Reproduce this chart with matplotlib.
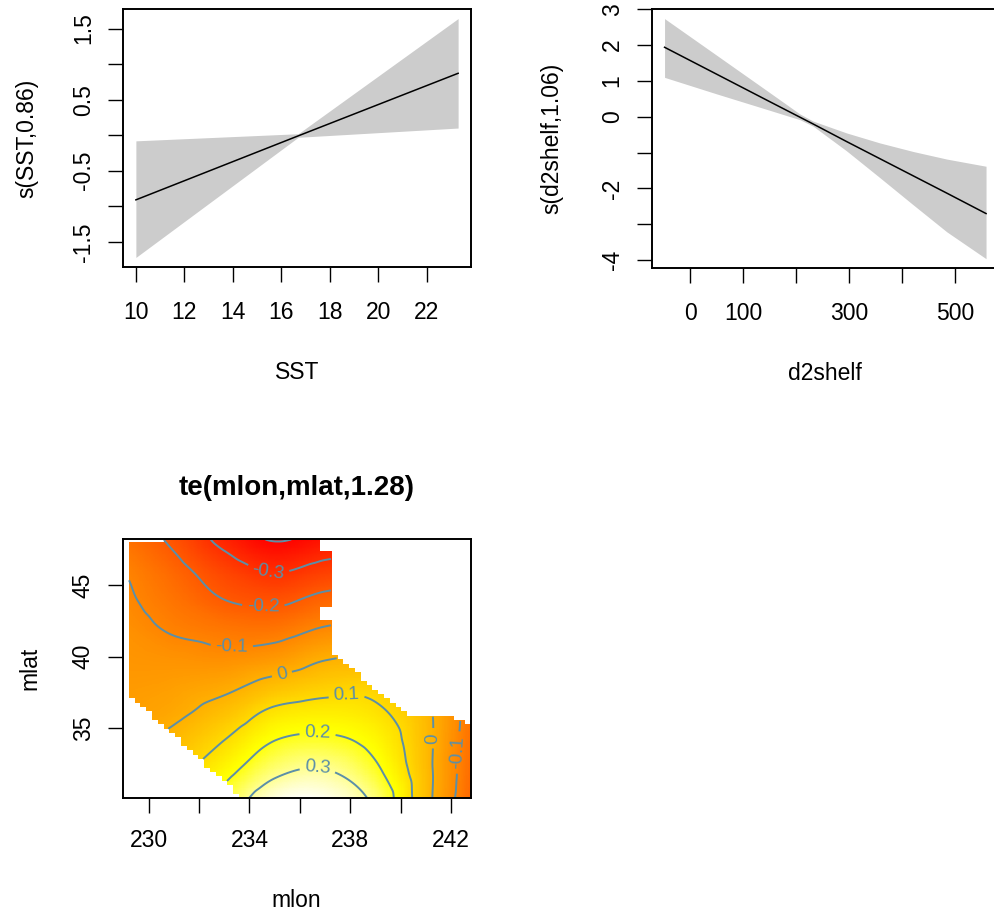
import numpy as np
import matplotlib
matplotlib.use("Agg")
import matplotlib.pyplot as plt
import matplotlib.tri as mtri
from matplotlib.path import Path
from matplotlib.colors import LinearSegmentedColormap, hsv_to_rgb

plt.rcParams['font.family'] = ['Liberation Sans', 'DejaVu Sans']
plt.rcParams['axes.unicode_minus'] = False
plt.rcParams['contour.negative_linestyle'] = 'solid'

# ---------------- data: panel 1 (SST) ----------------
sst = [10.0, 16.7, 23.3]
sst_fit = [-0.91, -0.01, 0.87]
sst_upper = [-0.08, 0.02, 1.64]
sst_lower = [-1.72, -0.03, 0.10]
sst_xticks = [10, 12, 14, 16, 18, 20, 22]
sst_xticklabels = ["10", "12", "14", "16", "18", "20", "22"]
sst_yticks = [-1.5, -1.0, -0.5, 0.0, 0.5, 1.0, 1.5]
sst_yticklabels = ["-1.5", "", "-0.5", "", "0.5", "", "1.5"]

# ---------------- data: panel 2 (d2shelf) ----------------
d2shelf = [-48, 50, 144, 207, 232, 295, 358, 421, 484, 558]
d2_fit = [1.94, 1.19, 0.47, -0.01, -0.20, -0.69, -1.17, -1.65, -2.13, -2.70]
d2_upper = [2.74, 1.72, 0.74, 0.08, -0.12, -0.45, -0.73, -0.97, -1.18, -1.38]
d2_lower = [1.10, 0.64, 0.21, -0.08, -0.26, -0.95, -1.70, -2.46, -3.21, -3.96]
d2_xticks = [0, 100, 200, 300, 400, 500]
d2_xticklabels = ["0", "100", "", "300", "", "500"]
d2_yticks = [-4, -3, -2, -1, 0, 1, 2, 3]
d2_yticklabels = ["-4", "", "-2", "", "0", "1", "2", "3"]

# ---------------- data: panel 3 (te(mlon,mlat)) ----------------
mlon_nodes = [229, 231, 233, 235, 237, 239, 241, 243]
mlat_nodes = [30, 32, 34, 36, 38, 40, 42, 44, 46, 48.3]
# rows = mlat_nodes, columns = mlon_nodes
te_values = [
    [-0.01, 0.14, 0.24, 0.36, 0.37, 0.28, 0.03, -0.19],
    [-0.02, 0.07, 0.17, 0.28, 0.305, 0.22, 0.028, -0.18],
    [-0.03, 0.025, 0.105, 0.205, 0.225, 0.17, 0.025, -0.17],
    [-0.04, -0.015, 0.04, 0.125, 0.145, 0.12, 0.02, -0.16],
    [-0.05, -0.04, -0.02, 0.03, 0.065, 0.07, 0.0, -0.17],
    [-0.06, -0.07, -0.08, -0.06, -0.01, 0.0, -0.04, -0.20],
    [-0.07, -0.11, -0.135, -0.14, -0.095, -0.08, -0.10, -0.24],
    [-0.085, -0.14, -0.20, -0.22, -0.175, -0.16, -0.17, -0.28],
    [-0.10, -0.17, -0.25, -0.305, -0.265, -0.25, -0.25, -0.33],
    [-0.14, -0.22, -0.33, -0.41, -0.37, -0.35, -0.34, -0.40],
]
# outline of the area covered by data (outside is blank)
region_lon = [229.1, 230.6, 230.6, 236.9, 236.9, 237.25, 237.25, 236.9, 236.9, 237.15,
              237.15, 240.4, 241.8, 242.6, 242.8, 242.8, 233.8, 229.1]
region_lat = [47.95, 47.95, 48.3, 48.3, 47.2, 47.2, 43.5, 43.5, 42.6, 42.6,
              40.3, 35.8, 35.8, 35.35, 35.35, 30.0, 30.0, 37.45]
te_levels = [-0.4, -0.3, -0.2, -0.1, 0.0, 0.1, 0.2, 0.3]
te_label_pos = [(234.75, 45.95), (234.55, 43.4), (233.3, 40.7), (235.3, 38.7),
                (237.86, 37.2), (236.7, 34.5), (236.7, 32.1), (241.35, 34.3),
                (242.35, 33.3)]
te_xticks = [230, 232, 234, 236, 238, 240, 242]
te_xticklabels = ["230", "", "234", "", "238", "", "242"]
te_yticks = [35, 40, 45]
te_yticklabels = ["35", "40", "45"]

FS = 16.5
TICKLEN = 10.8


def rlim(lo, hi):
    r = hi - lo
    return lo - 0.04 * r, hi + 0.04 * r


def style(ax, xt, xtl, yt, ytl, xpad, ypad):
    ax.set_xticks(xt)
    ax.set_xticklabels(xtl)
    ax.set_yticks(yt)
    ax.set_yticklabels(ytl, rotation=90, va='center')
    ax.tick_params(direction='out', length=TICKLEN, width=1.0, labelsize=FS,
                   color='black')
    ax.tick_params(axis='x', pad=xpad)
    ax.tick_params(axis='y', pad=ypad)
    for s in ax.spines.values():
        s.set_linewidth(1.4)


fig = plt.figure(figsize=(9.95, 9.18), dpi=100)

# ---------- panel 1 ----------
ax1 = fig.add_axes([123 / 995, 1 - 267 / 918, 348 / 995, 258 / 918])
ax1.fill_between(sst, sst_lower, sst_upper, color='#cccccc', linewidth=0)
ax1.plot(sst, sst_fit, color='black', lw=1.1)
ax1.set_xlim(*rlim(min(sst), max(sst)))
ax1.set_ylim(*rlim(min(sst_lower), max(sst_upper)))
style(ax1, sst_xticks, sst_xticklabels, sst_yticks, sst_yticklabels, 13.5, 9.4)
ax1.text(0.5, -0.41, "SST", transform=ax1.transAxes, ha='center', va='center', fontsize=FS)
ax1.text(-0.276, 0.5, "s(SST,0.86)", transform=ax1.transAxes, ha='center', va='center',
         rotation=90, fontsize=FS)

# ---------- panel 2 ----------
ax2 = fig.add_axes([651.7 / 995, 1 - 268.3 / 918, 347.2 / 995, 259.3 / 918])
ax2.fill_between(d2shelf, d2_lower, d2_upper, color='#cccccc', linewidth=0)
ax2.plot(d2shelf, d2_fit, color='black', lw=1.1)
ax2.set_xlim(*rlim(min(d2shelf), max(d2shelf)))
ax2.set_ylim(*rlim(min(d2_lower), max(d2_upper)))
style(ax2, d2_xticks, d2_xticklabels, d2_yticks, d2_yticklabels, 13.5, 9.4)
ax2.text(0.5, -0.404, "d2shelf", transform=ax2.transAxes, ha='center', va='center', fontsize=FS)
ax2.text(-0.288, 0.5, "s(d2shelf,1.06)", transform=ax2.transAxes, ha='center', va='center',
         rotation=90, fontsize=FS)

# ---------- panel 3 ----------
ax3 = fig.add_axes([122.7 / 995, 1 - 798.3 / 918, 348 / 995, 259.3 / 918])
xlim3 = (228.97, 242.78)
ylim3 = (30.1, 48.24)

n = 50
j = n // 4
i = n - j
heat = [hsv_to_rgb((h, 1.0, 1.0)) for h in np.linspace(0, 1 / 6, i)]
heat += [hsv_to_rgb((1 / 6, s, 1.0)) for s in np.linspace(1 - 1 / (2 * j), 1 / (2 * j), j)]
cmap = LinearSegmentedColormap.from_list('heat', heat)

LON, LAT = np.meshgrid(mlon_nodes, mlat_nodes)
tri = mtri.Triangulation(LON.ravel(), LAT.ravel())
interp = mtri.CubicTriInterpolator(tri, np.array(te_values).ravel(), kind='geom')

ncell, sub = 60, 5
nf = ncell * sub
xc = xlim3[0] + (np.arange(ncell) + 0.5) * (xlim3[1] - xlim3[0]) / ncell
yc = ylim3[0] + (np.arange(ncell) + 0.5) * (ylim3[1] - ylim3[0]) / ncell
XC, YC = np.meshgrid(xc, yc)
poly = Path(np.column_stack([region_lon, region_lat]))
inside = poly.contains_points(np.column_stack([XC.ravel(), YC.ravel()])).reshape(ncell, ncell)
mask_f = np.repeat(np.repeat(~inside, sub, axis=0), sub, axis=1)

xf = xlim3[0] + (np.arange(nf) + 0.5) * (xlim3[1] - xlim3[0]) / nf
yf = ylim3[0] + (np.arange(nf) + 0.5) * (ylim3[1] - ylim3[0]) / nf
XF, YF = np.meshgrid(xf, yf)
ZF = interp(XF, YF)
Z = np.ma.array(np.ma.getdata(ZF), mask=mask_f | np.ma.getmaskarray(ZF))

ax3.imshow(Z, extent=[xlim3[0], xlim3[1], ylim3[0], ylim3[1]], origin='lower',
           cmap=cmap, vmin=Z.min(), vmax=Z.max(), aspect='auto', interpolation='nearest')
ccol = '#5b8fa8'
cs = ax3.contour(xf, yf, Z, levels=te_levels, colors=ccol, linewidths=1.4,
                 linestyles='solid')
fmt = {lv: ("0" if abs(lv) < 1e-9 else f"{lv:g}") for lv in te_levels}
ax3.clabel(cs, fmt=fmt, fontsize=13.5, inline=True, manual=te_label_pos, colors=ccol)
ax3.set_xlim(*xlim3)
ax3.set_ylim(*ylim3)
style(ax3, te_xticks, te_xticklabels, te_yticks, te_yticklabels, 11, 9.4)
ax3.text(0.5, -0.396, "mlon", transform=ax3.transAxes, ha='center', va='center', fontsize=FS)
ax3.text(-0.266, 0.5, "mlat", transform=ax3.transAxes, ha='center', va='center',
         rotation=90, fontsize=FS)
ax3.text(0.5, 1.197, "te(mlon,mlat,1.28)", transform=ax3.transAxes, ha='center',
         va='center', fontsize=20, fontweight='bold')

fig.savefig("out.png", dpi=100)
